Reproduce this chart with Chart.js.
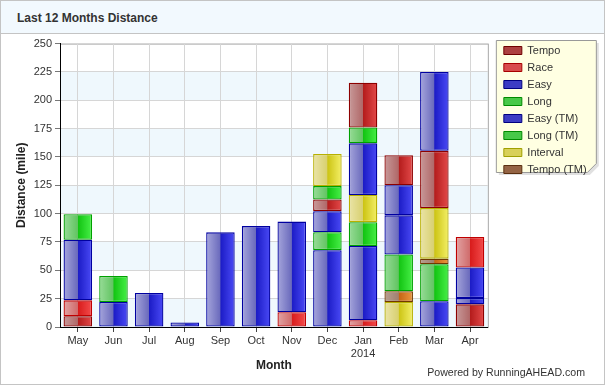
<!DOCTYPE html>
<html>
<head>
<meta charset="utf-8">
<script src="https://cdn.jsdelivr.net/npm/chart.js@4.4.1/dist/chart.umd.min.js"></script>
<style>
  body { margin: 0; background: #fff; }
  #card { position: relative; width: 603px; height: 383px; border: 1px solid #c4c4c4; background: #fff; font-family: Arial, "Liberation Sans", sans-serif; }
  #head { height: 32px; background: #f2f9fe; border-bottom: 1px solid #c4c4c4; }
  #head span { position: absolute; left: 16px; top: 10px; font-weight: bold; font-size: 12px; color: #333; }
  #wrap { position: absolute; left: 0; top: 33px; width: 603px; height: 350px; }
  #powered { position: absolute; right: 19px; bottom: 6px; font-size: 10.6px; color: #333; }
</style>
</head>
<body>
<div id="card">
  <div id="head"><span>Last 12 Months Distance</span></div>
  <div id="wrap"><canvas id="chart"></canvas></div>
  <div id="powered">Powered by RunningAHEAD.com</div>
</div>
<script>
const months = ['May', 'Jun', 'Jul', 'Aug', 'Sep', 'Oct', 'Nov', 'Dec', ['Jan', '2014'], 'Feb', 'Mar', 'Apr'];
const types = ['Tempo', 'Race', 'Easy', 'Long', 'Easy (TM)', 'Long (TM)', 'Interval', 'Tempo (TM)'];
const yTicks = [0, 25, 50, 75, 100, 125, 150, 175, 200, 225, 250];

// miles per run type, per month
const tempo    = [9.5, 0, 0, 0, 0, 0, 0, 10.3, 39.5, 26.5, 50.5, 20];
const race     = [14, 0, 0, 0, 0, 0, 13, 0, 6, 0, 0, 27];
const easy     = [53.5, 22, 30, 4, 83.5, 89, 80, 67.8, 65.5, 34.5, 22.7, 5.5];
const long     = [22.5, 23, 0, 0, 0, 0, 0, 15.8, 21, 32.5, 32.7, 0];
const easyTM   = [0, 0, 0, 0, 0, 0, 0, 18.6, 45.5, 26.5, 69.5, 27];
const longTM   = [0, 0, 0, 0, 0, 0, 0, 11.8, 14, 0, 0, 0];
const interval = [0, 0, 0, 0, 0, 0, 0, 28.3, 24, 22, 44.6, 0];
const tempoTM  = [0, 0, 0, 0, 0, 0, 0, 0, 0, 9.5, 4.9, 0];

// segment order inside each bar, bottom first (index into types)
const stackOrder = [
  [0, 1, 2, 3], [2, 3], [2], [2], [2], [2], [1, 2],
  [2, 3, 4, 0, 5, 6], [1, 2, 3, 6, 4, 5, 0], [6, 7, 3, 2, 4, 0], [2, 3, 7, 6, 0, 4], [0, 2, 4, 1]
];

const values = [tempo, race, easy, long, easyTM, longTM, interval, tempoTM];

// light left half, saturated right half, like the original bars
const blue = { stops: ['#a6a6dc', '#6a6abc', '#1c1cc6', '#4a4af6'], border: '#0000a0', key: '#3c3cc4', keyBorder: '#000080' };
const green = { stops: ['#98dc98', '#62c462', '#12c412', '#48f048'], border: '#00a000', key: '#48c848', keyBorder: '#008a00' };
const colors = [
  { stops: ['#c89a9a', '#b06868', '#b41c1c', '#e44a4a'], border: '#8c0000', key: '#ac4040', keyBorder: '#700000' },
  { stops: ['#e2a4a4', '#d06c6c', '#d81c1c', '#f44c4c'], border: '#c00000', key: '#d84c4c', keyBorder: '#a80000' },
  blue, green, blue, green,
  { stops: ['#eae4a8', '#d8d070', '#ccc414', '#f4f068'], border: '#b8b000', key: '#d8d058', keyBorder: '#a0a000' },
  { stops: ['#b8a090', '#a08070', '#c46414', '#ec9840'], border: '#703800', key: '#946444', keyBorder: '#5a3010' }
];

function barFill(ctx) {
  if (ctx.type !== 'data') return '#888';
  const t = ctx.dataset.typeIdx[ctx.dataIndex];
  if (t == null) return 'rgba(0,0,0,0)';
  const c = colors[t];
  const sx = ctx.chart.scales.x;
  if (!sx || !ctx.chart.chartArea) return c.stops[1];
  const cx = sx.getPixelForValue(ctx.dataIndex);
  const half = sx.width / months.length * 0.8 / 2;
  const g = ctx.chart.ctx.createLinearGradient(cx - half, 0, cx + half, 0);
  g.addColorStop(0, c.stops[0]);
  g.addColorStop(0.49, c.stops[1]);
  g.addColorStop(0.51, c.stops[2]);
  g.addColorStop(1, c.stops[3]);
  return g;
}

let datasets = [];
let nLayers = Math.max(...stackOrder.map(o => o.length));
for (let k = 0; k < nLayers; k++) {
  let typeIdx = months.map((m, i) => stackOrder[i][k]);
  datasets.push({
    label: 'layer' + k,
    data: months.map((m, i) => typeIdx[i] == null ? null : values[typeIdx[i]][i]),
    typeIdx: typeIdx,
    backgroundColor: barFill,
    borderColor: ctx => ctx.type === 'data' && ctx.dataset.typeIdx[ctx.dataIndex] != null ? colors[ctx.dataset.typeIdx[ctx.dataIndex]].border : '#000',
    borderWidth: 1.3,
    borderSkipped: false,
    barPercentage: 0.8,
    categoryPercentage: 1
  });
}

// plot bands, plot border and the yellow legend box
const backdrop = {
  id: 'backdrop',
  afterLayout(chart) {
    chart.legend.top -= 4;
    chart.legend.bottom -= 4;
  },
  beforeDraw(chart) {
    const c = chart.ctx, a = chart.chartArea, y = chart.scales.y;
    c.save();
    c.fillStyle = '#eff8fd';
    for (let i = 1; i < yTicks.length; i += 2) {
      let top = y.getPixelForValue(yTicks[i]), bot = y.getPixelForValue(yTicks[i - 1]);
      c.fillRect(a.left, top, a.right - a.left, bot - top);
    }
    c.strokeStyle = '#a8a8a8';
    c.lineWidth = 1;
    c.strokeRect(a.left + 0.5, a.top + 0.5, a.right - a.left, a.bottom - a.top);

    // legend box
    const lx = chart.legend.left - 2, ly = 6, w = 100, h = 132, dog = 9;
    c.fillStyle = 'rgba(0,0,0,0.12)';
    c.beginPath();
    c.moveTo(lx + 3, ly + 3); c.lineTo(lx + w + 3, ly + 3); c.lineTo(lx + w + 3, ly + h - dog + 3);
    c.lineTo(lx + w - dog + 3, ly + h + 3); c.lineTo(lx + 3, ly + h + 3); c.closePath(); c.fill();
    c.fillStyle = '#ffffe2';
    c.strokeStyle = '#999';
    c.beginPath();
    c.moveTo(lx + 0.5, ly + 0.5); c.lineTo(lx + w + 0.5, ly + 0.5); c.lineTo(lx + w + 0.5, ly + h - dog + 0.5);
    c.lineTo(lx + w - dog + 0.5, ly + h + 0.5); c.lineTo(lx + 0.5, ly + h + 0.5); c.closePath();
    c.fill(); c.stroke();
    c.restore();
  }
};

Chart.defaults.font.family = 'Arial, "Liberation Sans", sans-serif';
Chart.defaults.color = '#333';

new Chart(document.getElementById('chart'), {
  type: 'bar',
  data: { labels: months, datasets: datasets },
  options: {
    responsive: true,
    maintainAspectRatio: false,
    animation: false,
    layout: { padding: { left: 11, top: 9, right: 9, bottom: 9 } },
    plugins: {
      tooltip: { enabled: false },
      legend: {
        position: 'right',
        align: 'start',
        onClick: null,
        labels: {
          boxWidth: 18,
          boxHeight: 8,
          padding: 6,
          font: { size: 11 },
          color: '#333',
          generateLabels: () => types.map((t, i) => ({
            text: t, fillStyle: colors[i].key, strokeStyle: colors[i].keyBorder,
            lineWidth: 1, hidden: false, index: i, fontColor: '#333'
          }))
        }
      }
    },
    scales: {
      x: {
        stacked: true,
        grid: { offset: false, color: '#d6d6d6', tickColor: '#444', tickLength: 5 },
        border: { color: '#000', width: 1 },
        ticks: { font: { size: 11 }, color: '#333', padding: 2, maxRotation: 0, autoSkip: false },
        title: { display: true, text: 'Month', font: { size: 12, weight: 'bold' }, color: '#222', padding: { top: 2, bottom: 2 } },
        afterFit(scale) { scale.height = 48; }
      },
      y: {
        stacked: true,
        min: 0,
        max: 250,
        afterBuildTicks(scale) { scale.ticks = yTicks.map(v => ({ value: v })); },
        grid: { color: '#d6d6d6', tickColor: '#777', tickLength: 5 },
        border: { color: '#000', width: 1 },
        ticks: { font: { size: 11 }, color: '#333', padding: 3 },
        title: { display: true, text: 'Distance (mile)', font: { size: 12, weight: 'bold' }, color: '#222', padding: { top: 2, bottom: 2 } },
        afterFit(scale) { scale.width = 48; }
      },
      yR: {
        position: 'right',
        display: true,
        grid: { display: false, drawTicks: false },
        border: { display: false },
        ticks: { display: false },
        afterFit(scale) { scale.width = 10; }
      }
    }
  },
  plugins: [backdrop]
});
</script>
</body>
</html>
